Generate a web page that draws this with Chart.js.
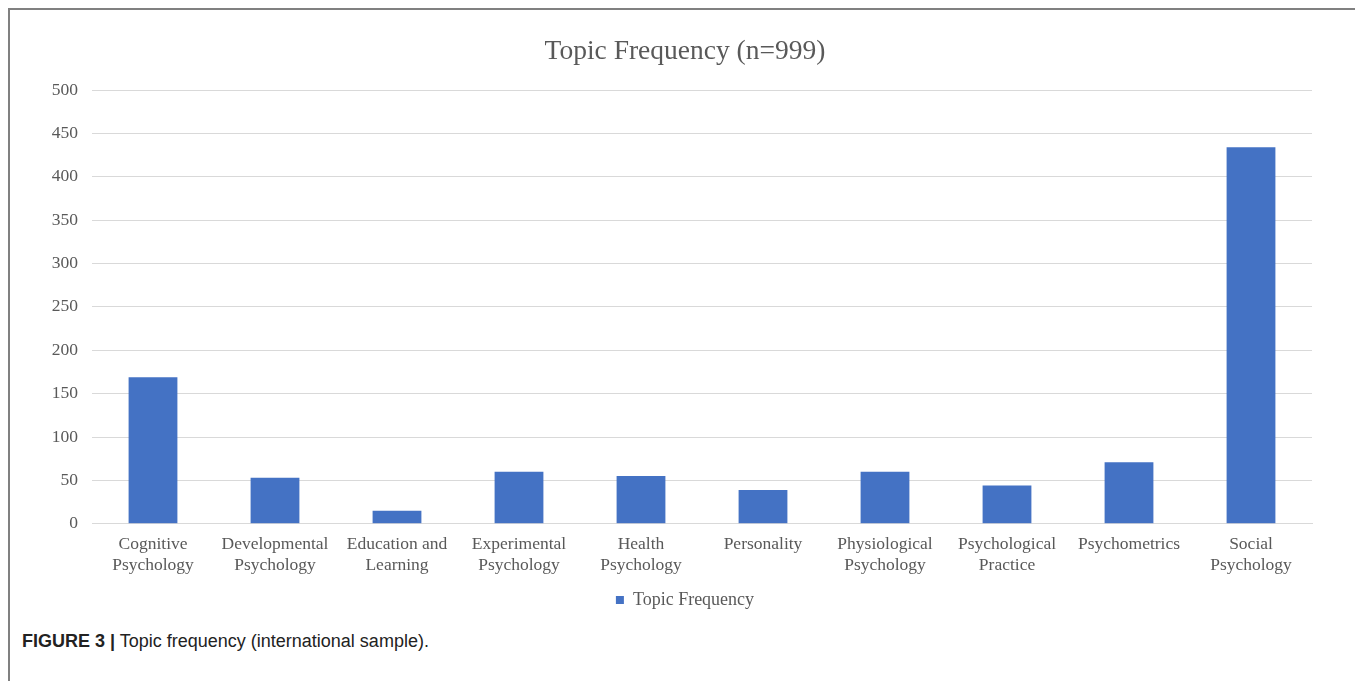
<!DOCTYPE html>
<html>
<head>
<meta charset="utf-8">
<script src="https://cdn.jsdelivr.net/npm/chart.js@4"></script>
<style>
    body {
        margin: 0;
        background: #ffffff;
        width: 1355px;
        height: 681px;
        overflow: hidden;
        position: relative;
    }
    #frame {
        position: absolute;
        left: 8px;
        top: 8px;
        width: 1400px;
        height: 700px;
        border-top: 2px solid #808080;
        border-left: 2px solid #808080;
    }
    #wrap {
        position: absolute;
        left: 20px;
        top: 12px;
        width: 1330px;
        height: 607px;
    }
    #caption {
        position: absolute;
        left: 22px;
        top: 631px;
        font-family: "Liberation Sans", Arial, sans-serif;
        font-size: 18px;
        color: #222;
    }
</style>
</head>
<body>
<div id="frame"></div>
<div id="wrap"><canvas id="bar"></canvas></div>
<div id="caption"><b>FIGURE 3 |</b> Topic frequency (international sample).</div>
<script>
var categories = [
    ["Cognitive", "Psychology"],
    ["Developmental", "Psychology"],
    ["Education and", "Learning"],
    ["Experimental", "Psychology"],
    ["Health", "Psychology"],
    "Personality",
    ["Physiological", "Psychology"],
    ["Psychological", "Practice"],
    "Psychometrics",
    ["Social", "Psychology"],
];
var topicFrequency = [169, 53, 15, 60, 55, 39, 60, 44, 71, 434];

var bar = document.getElementById("bar");

// y axis box is kept narrow (so the title centres like the original),
// widen it again after layout so its labels are not clipped
const unclipY = {
    id: "unclipY",
    afterLayout: (chart) => {
        chart.scales.y.left = 0;
    },
};

new Chart(bar, {
    type: "bar",
    data: {
        labels: categories,
        datasets: [
            {
                label: "Topic Frequency",
                data: topicFrequency,
                backgroundColor: "#4472C4",
                categoryPercentage: 1,
                barPercentage: 0.4,
            },
        ],
    },
    options: {
        responsive: true,
        maintainAspectRatio: false,
        animation: false,
        layout: {
            padding: { left: 38, right: 38, top: 8, bottom: 0 },
        },
        scales: {
            x: {
                grid: { display: false, drawTicks: false },
                border: { color: "#d9d9d9", width: 1 },
                ticks: {
                    color: "#595959",
                    padding: 11,
                    maxRotation: 0,
                    font: { family: "Liberation Serif", size: 17.5, lineHeight: 1.15 },
                },
            },
            y: {
                min: 0,
                max: 500,
                afterFit: (scale) => {
                    scale.width = 34;
                },
                ticks: {
                    stepSize: 50,
                    color: "#595959",
                    padding: 14,
                    font: { family: "Liberation Serif", size: 17.5 },
                },
                grid: { color: "#d9d9d9", drawTicks: false },
                border: { display: false },
            },
        },
        plugins: {
            title: {
                display: true,
                text: "Topic Frequency (n=999)",
                color: "#595959",
                font: { family: "Liberation Serif", size: 27.5, weight: "normal" },
                padding: { top: 15, bottom: 22 },
            },
            legend: {
                position: "bottom",
                labels: {
                    color: "#595959",
                    padding: 5,
                    boxWidth: 8,
                    boxHeight: 8,
                    font: { family: "Liberation Serif", size: 18 },
                },
            },
            tooltip: { enabled: true },
        },
    },
    plugins: [unclipY],
});
</script>
</body>
</html>
